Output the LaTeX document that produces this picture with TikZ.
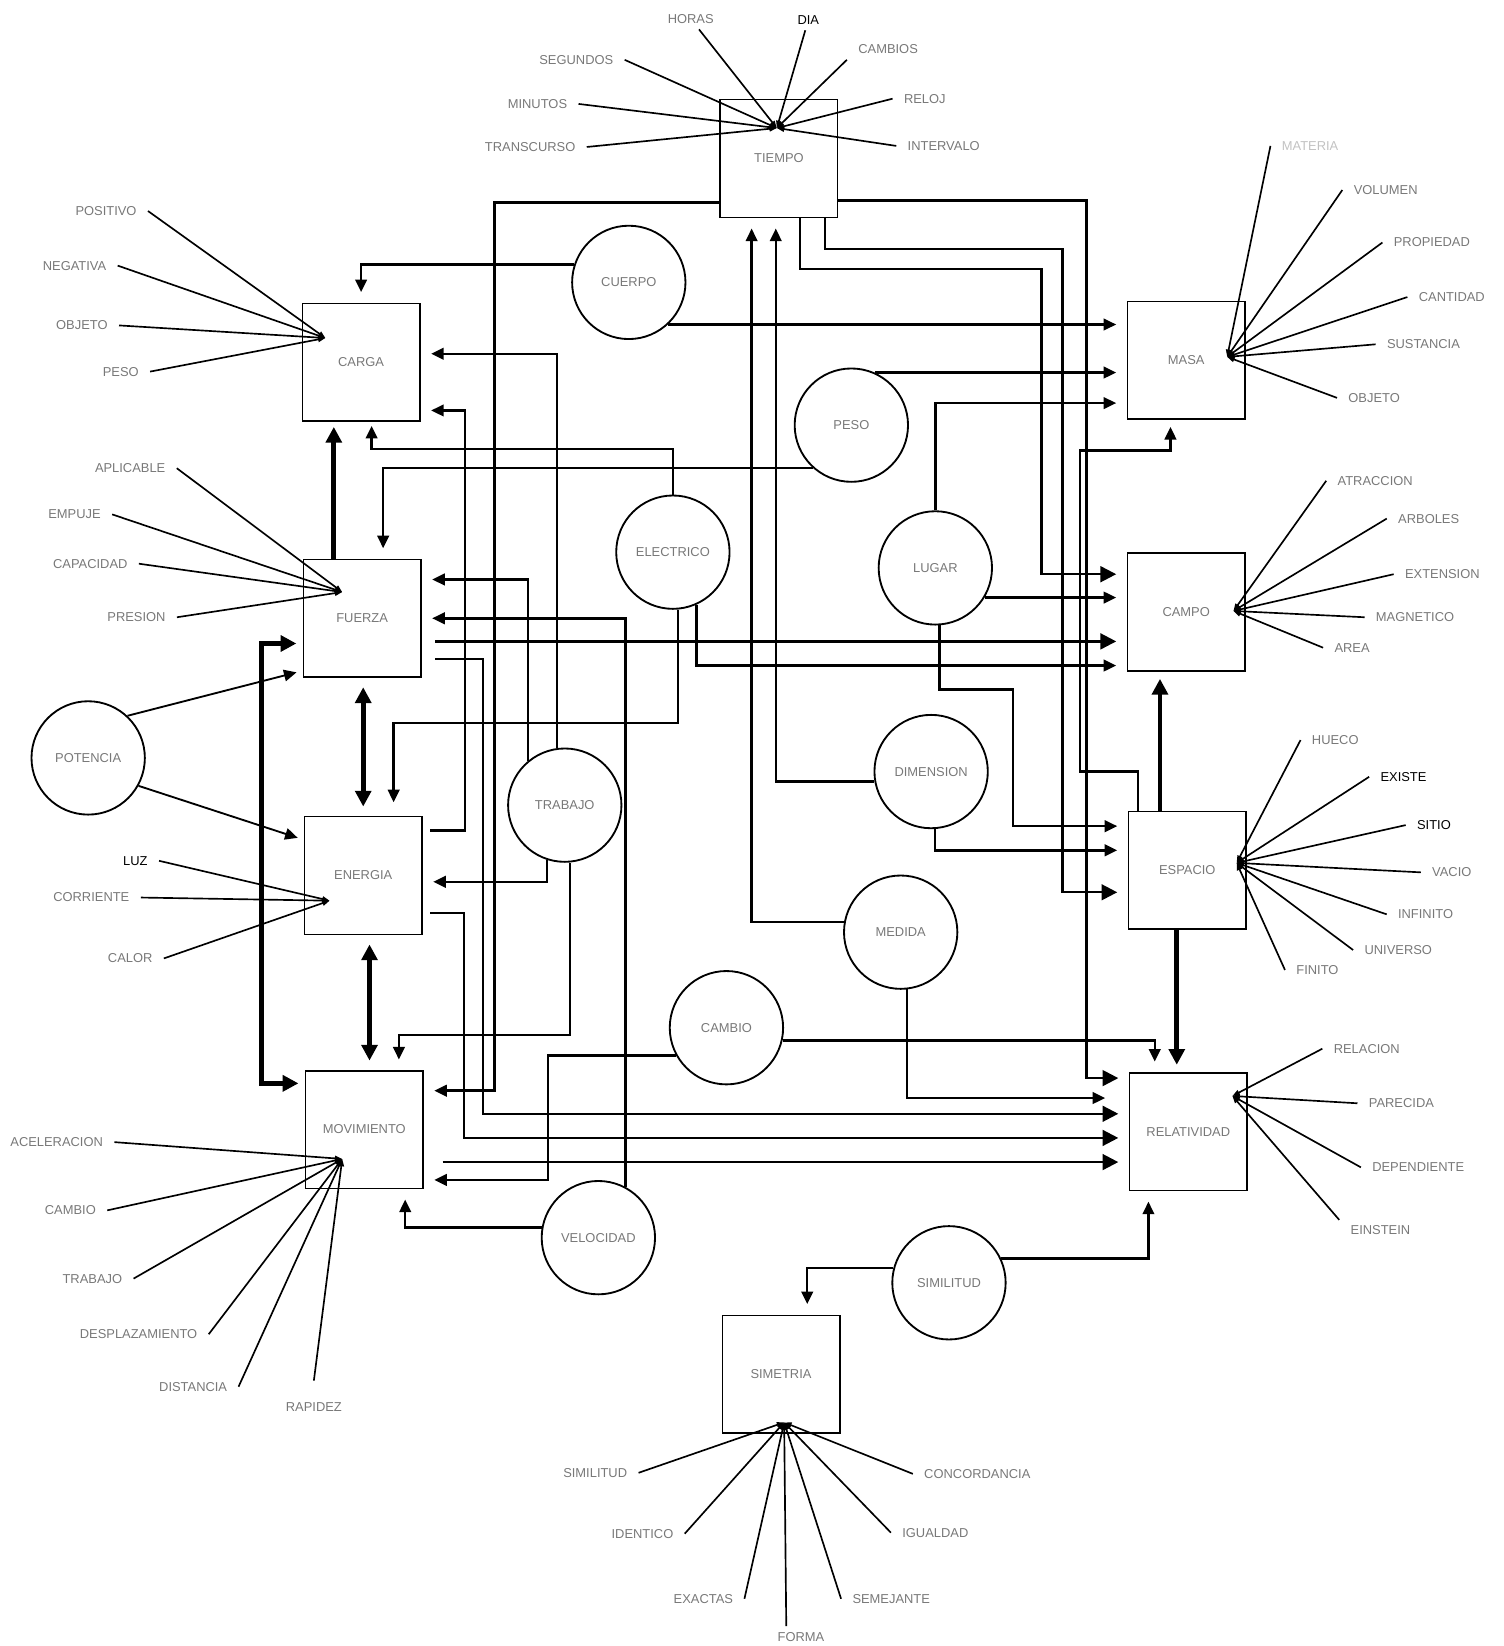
\documentclass[tikz,border=0pt]{standalone}
\usepackage{fontspec}
\setmainfont{Liberation Sans}
\usetikzlibrary{arrows.meta, positioning, calc}
\definecolor{wordgray}{RGB}{120,120,120}

\begin{document}
\begin{tikzpicture}[
  x=0.02cm, y=-0.02cm,
  box/.style={draw, rectangle, minimum width=2.24cm, minimum height=2.24cm, line width=0.8pt, font=\fontsize{7}{8}\selectfont, text=wordgray},
  blob/.style={draw, circle, minimum size=2.16cm, inner sep=0pt, line width=1pt, font=\fontsize{7}{8}\selectfont, text=wordgray},
  word/.style={inner xsep=6pt, inner ysep=3pt, font=\fontsize{7}{8}\selectfont, text=wordgray},
  spoke/.style={line width=0.9pt, -{Triangle[length=0.14cm, width=0.1cm]}},
  wire/.style={line width=1.3pt},
  heavy/.style={line width=2.6pt},
  pointer/.style={-{Triangle[length=0.24cm, width=0.22cm]}, shorten >=0.2cm},
  bigpointer/.style={-{Triangle[length=0.3cm, width=0.3cm]}, shorten >=0.2cm},
  bothways/.style={{Triangle[length=0.3cm, width=0.3cm]}-{Triangle[length=0.3cm, width=0.3cm]}, shorten <=0.18cm, shorten >=0.18cm}
]
  \useasboundingbox (0,0) rectangle (1432,1568);

  % Boxes
  \node[box] (tiempo) at (742,151) {TIEMPO};
  \node[box] (carga) at (344,345) {CARGA};
  \node[box] (fuerza) at (345,589) {FUERZA};
  \node[box] (energia) at (346,834) {ENERGIA};
  \node[box] (movimiento) at (347,1076) {MOVIMIENTO};
  \node[box] (masa) at (1130,343) {MASA};
  \node[box] (campo) at (1130,583) {CAMPO};
  \node[box] (espacio) at (1131,829) {ESPACIO};
  \node[box] (relatividad) at (1132,1078) {RELATIVIDAD};
  \node[box] (simetria) at (744,1309) {SIMETRIA};

  % Circles
  \node[blob] (cuerpo) at (599,269) {CUERPO};
  \node[blob] (peso) at (811,405) {PESO};
  \node[blob] (electrico) at (641,526) {ELECTRICO};
  \node[blob] (lugar) at (891,541) {LUGAR};
  \node[blob] (potencia) at (84,722) {POTENCIA};
  \node[blob] (trabajo) at (538,767) {TRABAJO};
  \node[blob] (dimension) at (887,735) {DIMENSION};
  \node[blob] (medida) at (858,888) {MEDIDA};
  \node[blob] (cambio) at (692,979) {CAMBIO};
  \node[blob] (velocidad) at (570,1179) {VELOCIDAD};
  \node[blob] (similitud) at (904,1222) {SIMILITUD};

  % Hubs
  \coordinate (hubT) at (740,122);
  \coordinate (hubC) at (310,322);
  \coordinate (hubF) at (326,564);
  \coordinate (hubE) at (314,858);
  \coordinate (hubM) at (326,1104);
  \coordinate (hubMa) at (1169,340);
  \coordinate (hubCa) at (1175,582);
  \coordinate (hubEs) at (1178,822);
  \coordinate (hubR) at (1174,1044);
  \coordinate (hubS) at (747,1355);

  % Words round TIEMPO
  \node[word] (horas) at (658,18) {HORAS};
  \node[word, text=black] (dia) at (770,19) {DIA};
  \node[word] (cambios) at (846,47) {CAMBIOS};
  \node[word] (segundos) at (549,57) {SEGUNDOS};
  \node[word] (reloj) at (881,94) {RELOJ};
  \node[word] (minutos) at (512,99) {MINUTOS};
  \node[word] (transcurso) at (505,140) {TRANSCURSO};
  \node[word] (intervalo) at (899,139) {INTERVALO};
  \draw[spoke] (horas) -- (hubT);
  \draw[spoke] (dia) -- (hubT);
  \draw[spoke] (cambios.south west) -- (hubT);
  \draw[spoke] (segundos.east) -- (hubT);
  \draw[spoke] (reloj.west) -- (hubT);
  \draw[spoke] (minutos.east) -- (hubT);
  \draw[spoke] (transcurso.east) -- (hubT);
  \draw[spoke] (intervalo.west) -- (hubT);

  % Words round CARGA
  \node[word] (positivo) at (101,201) {POSITIVO};
  \node[word] (negativa) at (71,253) {NEGATIVA};
  \node[word] (objeto1) at (78,310) {OBJETO};
  \node[word] (peso1) at (115,354) {PESO};
  \draw[spoke] (positivo.east) -- (hubC);
  \draw[spoke] (negativa.east) -- (hubC);
  \draw[spoke] (objeto1.east) -- (hubC);
  \draw[spoke] (peso1.east) -- (hubC);

  % Words round FUERZA
  \node[word] (aplicable) at (124,446) {APLICABLE};
  \node[word] (empuje) at (71,490) {EMPUJE};
  \node[word] (capacidad) at (86,537) {CAPACIDAD};
  \node[word] (presion) at (130,588) {PRESION};
  \draw[spoke] (aplicable.east) -- (hubF);
  \draw[spoke] (empuje.east) -- (hubF);
  \draw[spoke] (capacidad.east) -- (hubF);
  \draw[spoke] (presion.east) -- (hubF);

  % Words round ENERGIA
  \node[word, text=black] (luz) at (129,820) {LUZ};
  \node[word] (corriente) at (87,855) {CORRIENTE};
  \node[word] (calor) at (124,913) {CALOR};
  \draw[spoke] (luz.east) -- (hubE);
  \draw[spoke] (corriente.east) -- (hubE);
  \draw[spoke] (calor.east) -- (hubE);

  % Words round MOVIMIENTO
  \node[word] (aceleracion) at (54,1088) {ACELERACION};
  \node[word] (cambio1) at (67,1153) {CAMBIO};
  \node[word] (trabajo1) at (88,1218) {TRABAJO};
  \node[word] (desplazamiento) at (132,1271) {DESPLAZAMIENTO};
  \node[word] (distancia) at (184,1321) {DISTANCIA};
  \node[word] (rapidez) at (299,1340) {RAPIDEZ};
  \draw[spoke] (aceleracion.east) -- (hubM);
  \draw[spoke] (cambio1.east) -- (hubM);
  \draw[spoke] (trabajo1.east) -- (hubM);
  \draw[spoke] (desplazamiento.east) -- (hubM);
  \draw[spoke] (distancia.east) -- (hubM);
  \draw[spoke] ([yshift=0.3cm]rapidez.north) -- (hubM);

  % Words round MASA
  \node[word, text=wordgray!45] (materia) at (1248,139) {MATERIA};
  \node[word] (volumen) at (1320,181) {VOLUMEN};
  \node[word] (propiedad) at (1364,231) {PROPIEDAD};
  \node[word] (cantidad) at (1383,283) {CANTIDAD};
  \node[word] (sustancia) at (1356,328) {SUSTANCIA};
  \node[word] (objeto2) at (1309,379) {OBJETO};
  \draw[spoke] (materia.west) -- (hubMa);
  \draw[spoke] (volumen.west) -- (hubMa);
  \draw[spoke] (propiedad.west) -- (hubMa);
  \draw[spoke] (cantidad.west) -- (hubMa);
  \draw[spoke] (sustancia.west) -- (hubMa);
  \draw[spoke] (objeto2.west) -- (hubMa);

  % Words round CAMPO
  \node[word] (atraccion) at (1310,458) {ATRACCION};
  \node[word] (arboles) at (1361,494) {ARBOLES};
  \node[word] (extension) at (1374,547) {EXTENSION};
  \node[word] (magnetico) at (1348,588) {MAGNETICO};
  \node[word] (area) at (1288,617) {AREA};
  \draw[spoke] (atraccion.west) -- (hubCa);
  \draw[spoke] (arboles.west) -- (hubCa);
  \draw[spoke] (extension.west) -- (hubCa);
  \draw[spoke] (magnetico.west) -- (hubCa);
  \draw[spoke] (area.west) -- (hubCa);

  % Words round ESPACIO
  \node[word] (hueco) at (1272,705) {HUECO};
  \node[word, text=black] (existe) at (1337,740) {EXISTE};
  \node[word, text=black] (sitio) at (1366,786) {SITIO};
  \node[word] (vacio) at (1383,831) {VACIO};
  \node[word] (infinito) at (1358,871) {INFINITO};
  \node[word] (universo) at (1332,905) {UNIVERSO};
  \node[word] (finito) at (1255,924) {FINITO};
  \draw[spoke] (hueco.west) -- (hubEs);
  \draw[spoke] (existe.west) -- (hubEs);
  \draw[spoke] (sitio.west) -- (hubEs);
  \draw[spoke] (vacio.west) -- (hubEs);
  \draw[spoke] (infinito.west) -- (hubEs);
  \draw[spoke] (universo.west) -- (hubEs);
  \draw[spoke] (finito.west) -- (hubEs);

  % Words round RELATIVIDAD
  \node[word] (relacion) at (1302,999) {RELACION};
  \node[word] (parecida) at (1335,1051) {PARECIDA};
  \node[word] (dependiente) at (1351,1112) {DEPENDIENTE};
  \node[word] (einstein) at (1315,1172) {EINSTEIN};
  \draw[spoke] (relacion.west) -- (hubR);
  \draw[spoke] (parecida.west) -- (hubR);
  \draw[spoke] (dependiente.west) -- (hubR);
  \draw[spoke] (einstein.north west) -- (hubR);

  % Words round SIMETRIA
  \node[word] (similitud1) at (567,1403) {SIMILITUD};
  \node[word] (identico) at (612,1461) {IDENTICO};
  \node[word] (exactas) at (670,1523) {EXACTAS};
  \node[word] (forma) at (763,1559) {FORMA};
  \node[word] (semejante) at (849,1523) {SEMEJANTE};
  \node[word] (igualdad) at (891,1460) {IGUALDAD};
  \node[word] (concordancia) at (931,1404) {CONCORDANCIA};
  \draw[spoke] (similitud1.east) -- (hubS);
  \draw[spoke] (identico.east) -- (hubS);
  \draw[spoke] (exactas.east) -- (hubS);
  \draw[spoke] ([xshift=-0.28cm]forma.north) -- (hubS);
  \draw[spoke] (semejante.west) -- (hubS);
  \draw[spoke] (igualdad.west) -- (hubS);
  \draw[spoke] (concordancia.west) -- (hubS);

  % Wires from TIEMPO
  \draw[wire, pointer] (tiempo.west |- 0,193) -| (471,1039) -- (movimiento.east |- 0,1039);
  \draw[wire, bigpointer] (tiempo.east |- 0,191) -| (1035,1027) -- (relatividad.west |- 0,1027);
  \draw[wire, bigpointer] (762,0 |- tiempo.south) |- (992,256) |- (campo.west |- 0,547);
  \draw[wire, bigpointer] (786,0 |- tiempo.south) |- (1012,237) |- (espacio.west |- 0,850);
  \draw[wire, pointer] (medida.170) -| (716,0 |- tiempo.south);
  \draw[wire, pointer] (dimension.190) -| (739,0 |- tiempo.south);

  % Wires from the circles
  \draw[wire, pointer] (cuerpo.162) -| (carga.north);
  \draw[wire, pointer] (cuerpo.-47) -- (masa.west |- cuerpo.-47);
  \draw[wire, pointer] (peso.66) -- (masa.west |- peso.66);
  \draw[wire, pointer] (peso.228) -| (365,0 |- fuerza.north);
  \draw[wire, pointer] (lugar.north) |- (masa.west |- 0,384);
  \draw[wire, pointer] (lugar.-31) -- (campo.west |- lugar.-31);
  \draw[wire, pointer] (lugar.-86) |- (965,657) |- (espacio.west |- 0,787);
  \draw[wire, pointer] (dimension.-86) |- (espacio.west |- 0,810);
  \draw[wire, pointer, shorten >=0.45cm] (medida.-84) |- (relatividad.west |- 0,1046);
  \draw[wire, pointer] (cambio.-13) -| (1100,0 |- relatividad.north);
  \draw[wire, pointer] (cambio.209) -| (522,1124) -- (movimiento.east |- 0,1124);
  \draw[wire, pointer] (similitud.25) -| (1094,0 |- relatividad.south);
  \draw[wire, pointer] (similitud.165) -| (769,0 |- simetria.north);
  \draw[wire, pointer] (velocidad.170) -| (386,0 |- movimiento.south);
  \draw[wire, pointer] (velocidad.62) |- (fuerza.east |- 0,589);
  \draw[wire, pointer] (trabajo.130) |- (fuerza.east |- 0,552);
  \draw[wire, pointer] (trabajo.98) |- (carga.east |- 0,337);
  \draw[wire, pointer] (trabajo.-108) |- (energia.east |- 0,840);
  \draw[wire, pointer] (trabajo.-85) |- (380,986) -- (380,0 |- movimiento.north);
  \draw[wire, pointer, shorten >=0.08cm] (electrico.north) |- (354,428) -- (354,0 |- carga.south);
  \draw[wire, pointer, shorten >=0.26cm] (electrico.-85) |- (375,689) -- (375,0 |- energia.north);
  \draw[wire, pointer] (electrico.-66) |- (campo.west |- 0,634);
  \draw[line width=1pt, pointer, shorten >=0.12cm] (potencia.47) -- (fuerza.west |- 0,639);
  \draw[line width=1pt, pointer, shorten >=0.12cm] (potencia.-29) -- (energia.west |- 0,800);

  % Wires from ESPACIO
  \draw[wire, pointer, shorten >=0.14cm] (1084,0 |- espacio.north) |- (1029,735) |- (1115,429) -- (1115,0 |- masa.south);
  \draw[heavy, bigpointer, shorten >=0.14cm] (1105,0 |- espacio.north) -- (1105,0 |- campo.south);
  \draw[heavy, bigpointer, shorten >=0.14cm] (1121,0 |- espacio.south) -- (1121,0 |- relatividad.north);

  % Wires from the left column
  \draw[wire, bigpointer, shorten <=0.26cm] (fuerza.east |- 0,611) -- (campo.west |- 0,611);
  \draw[wire, bigpointer, shorten <=0.26cm] (fuerza.east |- 0,628) -| (460,1061) -- (relatividad.west |- 0,1061);
  \draw[wire, pointer, shorten <=0.14cm] (energia.east |- 0,791) -| (443,391) -- (carga.east |- 0,391);
  \draw[wire, bigpointer, shorten <=0.14cm] (energia.east |- 0,870) -| (442,1084) -- (relatividad.west |- 0,1084);
  \draw[wire, bigpointer, shorten <=0.36cm] (movimiento.east |- 0,1107) -- (relatividad.west |- 0,1107);

  % Heavy links
  \draw[heavy, bigpointer, shorten >=0.1cm] (318,0 |- fuerza.north) -- (318,0 |- carga.south);
  \draw[heavy, bothways] (346,0 |- fuerza.south) -- (346,0 |- energia.north);
  \draw[heavy, bothways] (352,0 |- energia.south) -- (352,0 |- movimiento.north);
  \draw[heavy, bothways, shorten <=0.12cm, shorten >=0.12cm] (fuerza.west |- 0,613) -| (249,1032) -- (movimiento.west |- 0,1032);
\end{tikzpicture}
\end{document}
